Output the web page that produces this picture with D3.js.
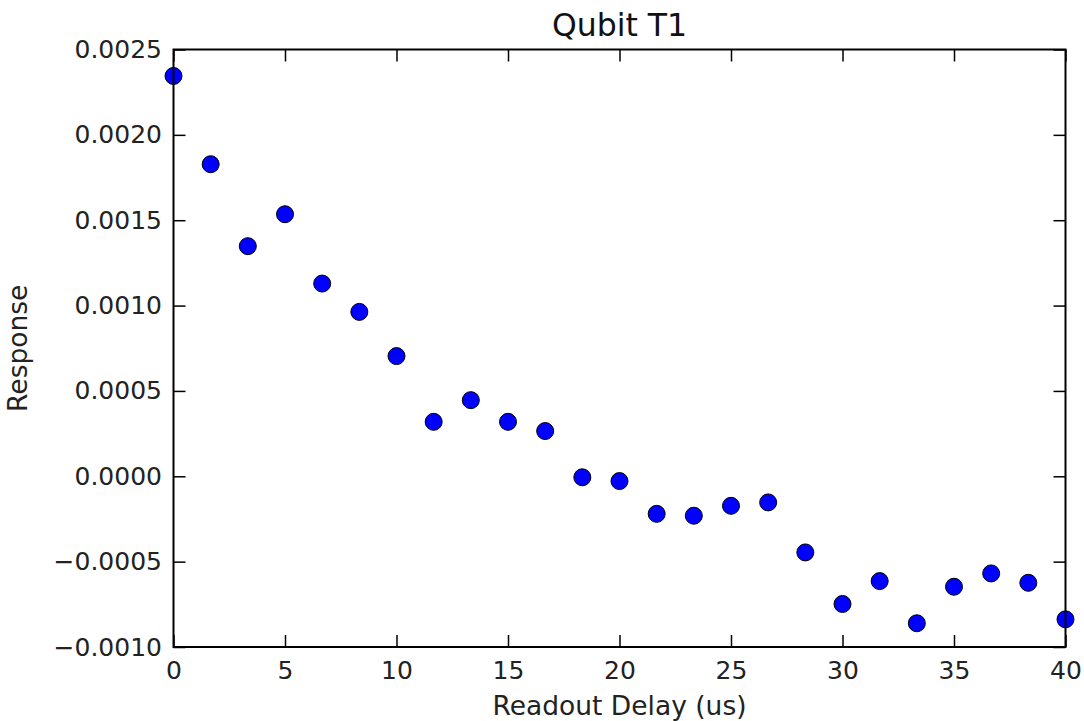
<!DOCTYPE html>
<html>
<head>
<meta charset="utf-8">
<script src="https://cdn.jsdelivr.net/npm/d3@7"></script>
<style>
  html, body { margin: 0; padding: 0; background: #fff; }
  svg { display: block; font-family: "DejaVu Sans", sans-serif; }
</style>
</head>
<body>
<svg id="chart" width="1084" height="721"></svg>
<script>
// ---- data ----
const delays = [0, 1.667, 3.333, 5, 6.667, 8.333, 10, 11.667, 13.333, 15, 16.667, 18.333, 20,
                21.667, 23.333, 25, 26.667, 28.333, 30, 31.667, 33.333, 35, 36.667, 38.333, 40];
const response = [0.002345, 0.001828, 0.001348, 0.001535, 0.001129, 0.000963, 0.000704, 0.000319,
                  0.000446, 0.000319, 0.000265, -0.000006, -0.000028, -0.000220, -0.000231,
                  -0.000173, -0.000153, -0.000446, -0.000748, -0.000614, -0.000861, -0.000647,
                  -0.000569, -0.000624, -0.000838];
const xTicks = [0, 5, 10, 15, 20, 25, 30, 35, 40];
const yTicks = [-0.0010, -0.0005, 0.0000, 0.0005, 0.0010, 0.0015, 0.0020, 0.0025];
const titleText = "Qubit T1";
const xLabel = "Readout Delay (us)";
const yLabel = "Response";

// ---- layout ----
const W = 1084, H = 721;
const m = { left: 173.5, right: 1084 - 1065.5, top: 49.5, bottom: 721 - 647 };
const svg = d3.select("#chart");

const x = d3.scaleLinear().domain([0, 40]).range([m.left, W - m.right]);
const y = d3.scaleLinear().domain([-0.0010, 0.0025]).range([H - m.bottom, m.top]);

const tickLen = 12;
const fmtY = v => {
  const s = Math.abs(v).toFixed(4);
  return (v < -1e-12 ? "\u2212" : "") + s;
};

// points
svg.append("g")
  .selectAll("circle")
  .data(delays.map((d, i) => [d, response[i]]))
  .join("circle")
  .attr("cx", d => x(d[0]))
  .attr("cy", d => y(d[1]))
  .attr("r", 8.5)
  .attr("fill", "#0000ff")
  .attr("stroke", "#000")
  .attr("stroke-width", 1);

// axes with inward ticks
const fontSize = 25;
const axB = d3.axisBottom(x).tickValues(xTicks).tickSizeInner(-tickLen).tickSizeOuter(0).tickPadding(14).tickFormat(d3.format("d"));
const axT = d3.axisTop(x).tickValues(xTicks).tickSizeInner(-tickLen).tickSizeOuter(0).tickFormat("");
const axL = d3.axisLeft(y).tickValues(yTicks).tickSizeInner(-tickLen).tickSizeOuter(0).tickPadding(11.5).tickFormat(fmtY);
const axR = d3.axisRight(y).tickValues(yTicks).tickSizeInner(-tickLen).tickSizeOuter(0).tickFormat("");

function style(g) {
  g.select(".domain").remove();
  g.selectAll(".tick line").attr("stroke", "#000").attr("stroke-width", 1.5);
  g.selectAll(".tick text").attr("fill", "#222").attr("font-size", fontSize).attr("font-family", "DejaVu Sans");
}

svg.append("g").attr("transform", `translate(0,${H - m.bottom})`).call(axB).call(style);
svg.append("g").attr("transform", `translate(0,${m.top})`).call(axT).call(style);
svg.append("g").attr("transform", `translate(${m.left},0)`).call(axL).call(style);
svg.append("g").attr("transform", `translate(${W - m.right},0)`).call(axR).call(style);

// frame
svg.append("rect")
  .attr("x", m.left).attr("y", m.top)
  .attr("width", W - m.left - m.right).attr("height", H - m.top - m.bottom)
  .attr("fill", "none").attr("stroke", "#000").attr("stroke-width", 2);

// title & labels
svg.append("text").attr("x", (m.left + W - m.right) / 2).attr("y", 36)
  .attr("text-anchor", "middle").attr("font-size", 31.5).attr("fill", "#111").text(titleText);
svg.append("text").attr("x", (m.left + W - m.right) / 2).attr("y", 715)
  .attr("text-anchor", "middle").attr("font-size", 26.5).attr("fill", "#222").text(xLabel);
svg.append("text")
  .attr("transform", `translate(27,${(m.top + H - m.bottom) / 2}) rotate(-90)`)
  .attr("text-anchor", "middle").attr("font-size", 26.5).attr("fill", "#222").text(yLabel);
</script>
</body>
</html>
